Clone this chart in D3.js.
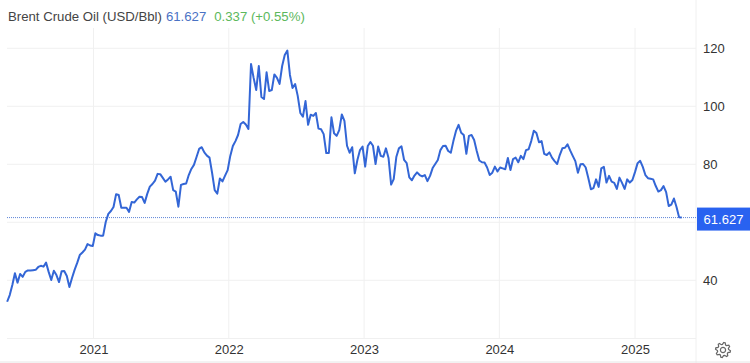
<!DOCTYPE html>
<html>
<head>
<meta charset="utf-8">
<script src="https://cdnjs.cloudflare.com/ajax/libs/d3/7.8.5/d3.min.js"></script>
<style>
	html, body { margin: 0; padding: 0; background: #fff; }
	svg { display: block; }
	text { font-family: "Liberation Sans", Arial, sans-serif; }
	.grid line { stroke: #f0f0f0; stroke-width: 1; }
	.axis text { font-size: 13px; fill: #333; }
	.axis .domain { display: none; }
</style>
</head>
<body>
<script>
var width = 750;
var height = 363;

var titleText = 'Brent Crude Oil (USD/Bbl)';
var lastText = '61.627';
var changeText = '0.337 (+0.55%)';
var lastPrice = 61.627;

var yearTicks = [2021, 2022, 2023, 2024, 2025];
var priceTicks = [40, 60, 80, 100, 120];
var priceLabels = [40, 80, 100, 120];

// first weekly reading, the rest follow 7 days apart
var firstWeek = new Date(2020, 4, 13);

var prices2020 = [32.6, 34.9, 38.4, 42.4, 39.2, 42.2, 41.2, 42.9, 43.4, 43.4, 43.5, 43.6, 44.6, 45.0, 44.7, 46.1,
	42.9, 40.1, 43.3, 41.8, 39.4, 43.1, 43.2, 41.5, 37.7, 40.8, 43.6, 46.0, 48.7, 49.6, 50.6, 52.5, 52.0, 51.8];
var prices2021 = [56.2, 55.6, 55.4, 55.4, 60.1, 62.9, 63.9, 65.3, 69.7, 69.4, 65.0, 65.0, 65.0, 63.6, 67.0, 66.8,
	67.9, 68.8, 68.7, 66.7, 69.8, 72.3, 73.2, 74.4, 76.7, 76.6, 75.3, 74.0, 74.8, 75.7, 71.1, 70.6, 65.4, 72.9,
	73.2, 73.4, 76.3, 78.4, 79.8, 82.5, 85.3, 85.9, 84.1, 83.0, 82.3, 77.0, 71.1, 69.9, 75.1, 74.1, 76.1, 78.0];
var prices2022 = [82.9, 86.3, 88.0, 90.1, 93.9, 94.6, 93.7, 92.2, 114.6, 109.8, 105.6, 113.9, 103.2, 102.5, 111.7, 105.3,
	105.6, 111.0, 109.8, 107.7, 113.9, 117.7, 119.2, 110.8, 106.3, 107.7, 103.6, 97.7, 96.4, 101.8, 93.6, 97.1,
	96.7, 97.7, 92.3, 92.1, 90.4, 83.9, 83.9, 96.2, 90.7, 89.8, 91.8, 97.2, 95.0, 86.4, 84.0, 85.9, 76.9, 81.5, 84.9, 86.1];
var prices2023 = [79.2, 86.3, 87.7, 86.4, 80.1, 86.1, 82.9, 82.6, 85.5, 82.2, 73.0, 74.9, 82.5, 85.5, 86.2, 81.5,
	80.4, 75.5, 74.5, 76.1, 77.2, 76.3, 75.8, 76.3, 74.2, 76.0, 78.7, 80.1, 81.5, 84.9, 86.3, 86.4, 84.6, 84.0,
	88.0, 91.5, 93.6, 90.9, 90.1, 83.6, 89.8, 90.1, 88.4, 84.6, 81.3, 80.7, 80.6, 78.9, 76.3, 77.1, 79.2, 77.5, 78.9];
var prices2024 = [78.6, 78.3, 82.2, 78.0, 81.8, 82.3, 80.7, 82.9, 81.8, 84.9, 85.2, 88.0, 91.6, 90.8, 87.6, 88.0,
	83.6, 83.2, 84.1, 82.3, 81.1, 80.1, 83.2, 85.5, 85.7, 86.9, 84.8, 82.9, 81.1, 77.1, 80.0, 80.1, 78.9, 75.3,
	71.4, 71.8, 74.8, 72.2, 78.6, 79.1, 73.7, 76.0, 74.0, 73.6, 71.5, 75.4, 73.6, 71.5, 74.8, 73.7, 74.6];
var prices2025 = [77.3, 80.4, 81.2, 79.1, 76.3, 75.2, 75.0, 74.8, 72.5, 70.6, 71.1, 72.5, 70.4, 65.6, 66.1, 68.2,
	65.3, 61.7, lastPrice];

var prices = [].concat(prices2020, prices2021, prices2022, prices2023, prices2024, prices2025);

var xScale = d3.scaleTime()
	.domain([new Date(2021, 0, 1), new Date(2025, 0, 1)])
	.range([93.5, 635]);

var yScale = d3.scaleLinear()
	.domain([40, 120])
	.range([280.3, 48.3]);

var plotLeft = 7;
var plotRight = 696;
var plotTop = 28;
var plotBottom = 338;

function yearDate(y) {
	return new Date(y, 0, 1);
}

var svg = d3.select('body').append('svg')
	.attr('width', width)
	.attr('height', height);

function drawGrid() {
	var grid = svg.append('g').attr('class', 'grid');

	grid.selectAll('.h')
		.data(priceTicks).enter()
		.append('line')
		.attr('class', 'h')
		.attr('x1', plotLeft)
		.attr('x2', plotRight)
		.attr('y1', function(d) { return yScale(d); })
		.attr('y2', function(d) { return yScale(d); });

	grid.selectAll('.v')
		.data(yearTicks).enter()
		.append('line')
		.attr('class', 'v')
		.attr('x1', function(d) { return xScale(yearDate(d)); })
		.attr('x2', function(d) { return xScale(yearDate(d)); })
		.attr('y1', plotTop)
		.attr('y2', plotBottom);

	// frame: right edge, bottom edge and the strip under the chart
	grid.append('line').attr('x1', plotRight).attr('x2', plotRight).attr('y1', 0).attr('y2', height);
	grid.append('line').attr('x1', plotLeft).attr('x2', plotRight).attr('y1', plotBottom + 0.5).attr('y2', plotBottom + 0.5);
	grid.append('line').attr('x1', 0).attr('x2', width).attr('y1', 362).attr('y2', 362).style('stroke', '#e6e6e6');
}

function drawAxes() {
	svg.append('g')
		.attr('class', 'axis')
		.attr('transform', 'translate(' + plotRight + ',0)')
		.call(d3.axisRight(yScale).tickValues(priceLabels).tickSize(0).tickPadding(7));

	svg.append('g')
		.attr('class', 'axis')
		.attr('transform', 'translate(0,' + plotBottom + ')')
		.call(d3.axisBottom(xScale)
			.tickValues(yearTicks.map(yearDate))
			.tickFormat(d3.timeFormat('%Y'))
			.tickSize(0)
			.tickPadding(7));
}

function drawLastLine() {
	svg.append('line')
		.attr('x1', plotLeft)
		.attr('x2', plotRight)
		.attr('y1', yScale(lastPrice))
		.attr('y2', yScale(lastPrice))
		.attr('stroke', '#5f86d8')
		.attr('stroke-width', 1)
		.attr('stroke-dasharray', '1,1');

	svg.append('rect')
		.attr('x', plotRight + 1)
		.attr('y', yScale(lastPrice) - 10)
		.attr('width', width - plotRight - 1)
		.attr('height', 23)
		.attr('fill', '#2962f0');

	svg.append('text')
		.attr('x', 723.5)
		.attr('y', yScale(lastPrice) + 6)
		.attr('text-anchor', 'middle')
		.attr('font-size', 13)
		.attr('fill', '#fff')
		.text(lastText);
}

function drawPriceLine() {
	var priceLine = d3.line()
		.x(function(d, i) { return xScale(d3.timeDay.offset(firstWeek, i * 7)); })
		.y(function(d) { return yScale(d); });

	svg.append('path')
		.attr('d', priceLine(prices))
		.attr('fill', 'none')
		.attr('stroke', '#3366d6')
		.attr('stroke-width', 2)
		.attr('stroke-linejoin', 'round');
}

function drawTitle() {
	var title = svg.append('text')
		.attr('x', 8)
		.attr('y', 21)
		.attr('font-size', 13.2);
	title.append('tspan').attr('fill', '#444').text(titleText);
	title.append('tspan').attr('fill', '#4a72c4').attr('dx', 4).text(lastText);
	title.append('tspan').attr('fill', '#5cb85c').attr('dx', 8).text(changeText);
}

function drawGear() {
	var teeth = 8;
	var corners = d3.range(teeth * 4).map(function(i) {
		var r = (i % 4 < 2) ? 7.5 : 5.6;
		return [(i + 0.5) * Math.PI * 2 / (teeth * 4), r];
	});
	var gear = svg.append('g')
		.attr('transform', 'translate(723,350)')
		.attr('fill', 'none')
		.attr('stroke', '#666')
		.attr('stroke-width', 1.2);
	gear.append('path').attr('d', d3.lineRadial().curve(d3.curveLinearClosed)(corners));
	gear.append('circle').attr('r', 2.6);
}

drawGrid();
drawAxes();
drawLastLine();
drawPriceLine();
drawTitle();
drawGear();
</script>
</body>
</html>
